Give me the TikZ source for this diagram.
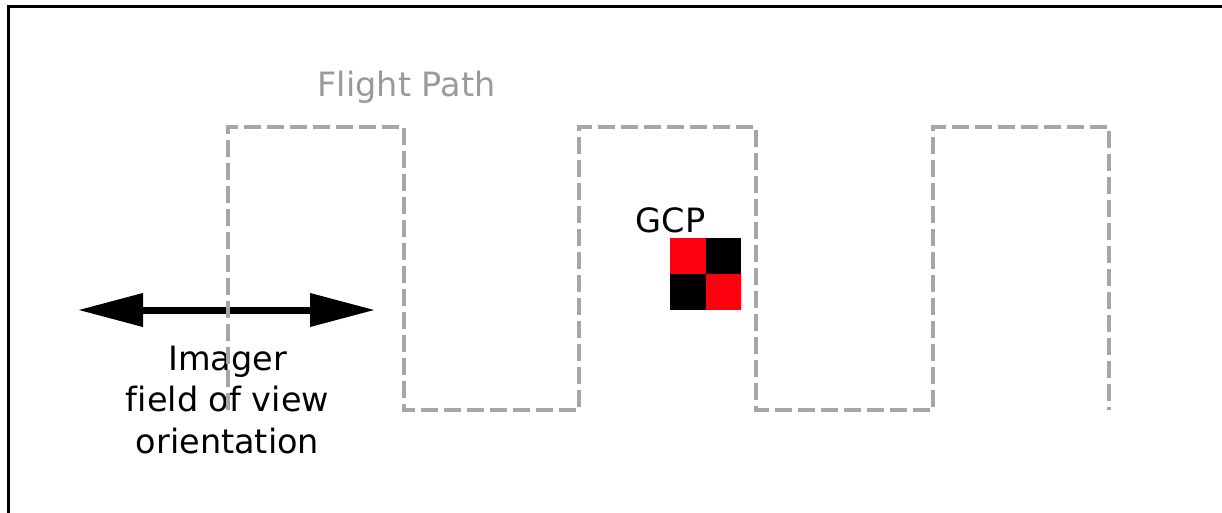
\documentclass[tikz,border=0pt]{standalone}
\usepackage{fontspec}
\setmainfont{DejaVu Sans}[Ligatures=NoCommon]
\usetikzlibrary{arrows.meta}
\definecolor{pathgray}{HTML}{A6A6A6}
\definecolor{labelgray}{HTML}{9A9A9A}
\definecolor{gcpred}{HTML}{FF0010}
\begin{document}
\begin{tikzpicture}[x=1pt,y=-1pt,
  flightpath/.style={draw=pathgray,line width=3.6pt,dash pattern=on 17pt off 6pt},
  bigtext/.style={inner sep=0pt,font=\fontsize{33.5}{41.5}\selectfont},
  frameline/.style={draw=black,line width=3pt},
  fovarrow/.style={draw=black,line width=7pt,{Triangle[length=65pt,width=32pt]}-{Triangle[length=65pt,width=32pt]}}]
\useasboundingbox (0,0) rectangle (1222,513);
% frame (left and top edges visible)
\coordinate (fbl) at (8.5,513);
\coordinate (ftl) at (8.5,7);
\coordinate (ftr) at (1222,7);
\draw[frameline] (fbl) -- (ftl) -- (ftr);
% labels
\node[bigtext,text=labelgray,anchor=base] (fp) at (406.5,96.5) {Flight Path};
\node[bigtext,anchor=base] (gcp) at (670.5,232) {GCP};
\node[bigtext,align=center] (fov) at (227.5,400) {Imager\\field of view\\orientation};
% GCP checkerboard
\fill[gcpred] (670,238) rectangle (706,274);
\fill[black] (706,238) rectangle (741,274);
\fill[black] (670,274) rectangle (706,310);
\fill[gcpred] (706,274) rectangle (741,310);
% field of view arrow
\coordinate (al) at (78,310);
\coordinate (ar) at (375,310);
\draw[fovarrow] (al) -- (ar);
% flight path
\coordinate (p0) at (228,410);
\coordinate (p1) at (228,127);
\coordinate (p2) at (404,127);
\coordinate (p3) at (404,410);
\coordinate (p4) at (579,410);
\coordinate (p5) at (579,127);
\coordinate (p6) at (756,127);
\coordinate (p7) at (756,410);
\coordinate (p8) at (933,410);
\coordinate (p9) at (933,127);
\coordinate (p10) at (1109,127);
\coordinate (p11) at (1109,410);
\draw[flightpath] (p0) -- (p1) -- (p2) -- (p3) -- (p4) -- (p5) -- (p6) -- (p7) -- (p8) -- (p9) -- (p10) -- (p11);
\end{tikzpicture}
\end{document}
